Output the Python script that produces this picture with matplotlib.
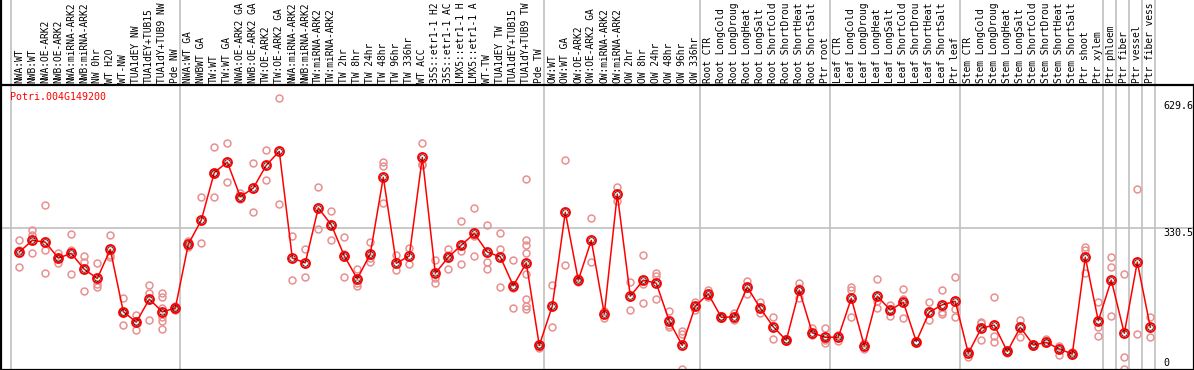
import matplotlib
matplotlib.use("Agg")
import matplotlib.pyplot as plt
from matplotlib.lines import Line2D
import matplotlib.transforms as mtransforms

plt.rcParams['font.family'] = ['DejaVu Sans Mono']

gene = "Potri.004G149200"

samples = [
    "NWA:WT", "NWB:WT", "NWA:OE-ARK2", "NWB:OE-ARK2", "NWA:miRNA-ARK2",
    "NWB:miRNA-ARK2", "NW 0hr", "WT H2O", "WT-NW", "TUA1dEY NW",
    "TUA1dEY+TUB15 NW", "TUA1dY+TUB9 NW", "Pde NW",
    "NWA:WT GA", "NWBWT GA", "TW:WT", "TW:WT GA", "NWA:OE-ARK2 GA",
    "NWB:OE-ARK2 GA", "TW:OE-ARK2", "TW:OE-ARK2 GA", "NWA:miRNA-ARK2 GA",
    "NWB:miRNA-ARK2 GA", "TW:miRNA-ARK2", "TW:miRNA-ARK2 GA", "TW 2hr",
    "TW 8hr", "TW 24hr", "TW 48hr", "TW 96hr", "TW 336hr", "WT ACC",
    "35S::etr1-1 H2O", "35S::etr1-1 ACC", "LMX5::etr1-1 H2O",
    "LMX5::etr1-1 ACC", "WT-TW", "TUA1dEY TW", "TUA1dEY+TUB15 TW",
    "TUA1dY+TUB9 TW", "Pde TW",
    "OW:WT", "OW:WT GA", "OW:OE-ARK2", "OW:OE-ARK2 GA", "OW:miRNA-ARK2",
    "OW:miRNA-ARK2 GA", "OW 2hr", "OW 8hr", "OW 24hr", "OW 48hr", "OW 96hr",
    "OW 336hr",
    "Root CTR", "Root LongCold", "Root LongDrought", "Root LongHeat",
    "Root LongSalt", "Root ShortCold", "Root ShortDrought", "Root ShortHeat",
    "Root ShortSalt", "Ptr root",
    "Leaf CTR", "Leaf LongCold", "Leaf LongDrought", "Leaf LongHeat",
    "Leaf LongSalt", "Leaf ShortCold", "Leaf ShortDrought", "Leaf ShortHeat",
    "Leaf ShortSalt", "Ptr leaf",
    "Stem CTR", "Stem LongCold", "Stem LongDrought", "Stem LongHeat",
    "Stem LongSalt", "Stem ShortCold", "Stem ShortDrought", "Stem ShortHeat",
    "Stem ShortSalt", "Ptr shoot", "Ptr xylem",
    "Ptr phloem", "Ptr fiber", "Ptr vessel", "Ptr fiber vessel",
]
MAX_CHARS = 14  # the header strip only has room for 14 characters

# index of first sample of each group (last entry = end)
group_starts = [0, 13, 41, 53, 63, 73, 84, 85, 86, 87, 88]

means = [
    274, 301, 297, 260, 271, 234, 213, 280, 136, 112, 165, 136, 144,
    292, 348, 458, 482, 402, 422, 475, 507, 260, 249, 376, 337, 265, 212,
    270, 447, 248, 265, 493, 225, 262, 290, 317, 274, 263, 196, 249, 58,
    149, 366, 209, 301, 131, 408, 172, 209, 202, 114, 58, 149,
    177, 123, 124, 193, 144, 101, 70, 186, 87, 77,
    77, 167, 57, 172, 140, 158, 67, 135, 152, 160,
    40, 98, 105, 44, 100, 59, 65, 50, 38, 262, 115,
    209, 86, 251, 100,
]

replicates = [
    [303, 279, 239], [325, 313, 271], [382, 279, 226], [271, 260, 248],
    [316, 279, 223], [266, 252, 184], [249, 199, 194], [313, 267, 263],
    [167, 136, 105], [128, 114, 94], [198, 179, 117],
    [179, 171, 144, 124, 115, 96], [149, 144, 140],
    [300, 286], [401, 294], [516, 456, 401], [526, 435], [410, 396],
    [479, 366], [510, 441], [629.6, 385], [312, 209], [281, 216],
    [424, 327], [369, 302], [309, 270, 216], [234, 203, 196],
    [297, 260, 252], [483, 473, 387], [267, 232], [283, 246],
    [526, 478, 475], [255, 215, 202], [282, 268, 234], [346, 277, 246],
    [375, 312, 265], [337, 251, 234], [318, 280, 193], [255, 190, 144],
    [443, 303, 290, 271, 223, 165, 149, 142], [62, 52],
    [198, 100], [487, 243], [214, 204], [352, 250], [138, 122], [424, 391],
    [204, 139], [267, 199, 156], [226, 219, 165], [138, 105, 100],
    [91, 84, 3], [158, 140],
    [186, 171], [126, 121], [134, 118], [207, 176], [158, 134], [123, 74],
    [72, 68], [202, 192, 167], [98, 82], [98, 71, 64],
    [82, 69], [194, 186, 124], [63, 49], [212, 160, 144], [152, 127],
    [188, 166, 121], [69, 65], [158, 118], [186, 136, 130], [216, 143, 124],
    [46, 32], [113, 110, 70], [170, 80, 66], [46, 40], [118, 78], [61, 57],
    [72, 63], [57, 37], [43, 37], [286, 279, 225], [158, 100, 80],
    [263, 239, 125], [223, 31, 3], [419, 84], [123, 78],
]

y_ticks = [0, 330.5, 629.6]

W, H = 1194, 370
HEADER = 85  # pixel height of label strip
fig = plt.figure(figsize=(W / 100, H / 100), dpi=100)
ax = fig.add_axes([0, 0, 1, (H - HEADER) / H])

# 13 px per sample, first sample at x = 19.3 px
step = 13.0
x0 = 19.3
ax.set_xlim(-x0 / step, (W - x0) / step)
ax.set_ylim(1.2, 660.4)
ax.set_xticks([])
ax.set_yticks([])
for side in ["left", "bottom", "top", "right"]:
    ax.spines[side].set_linewidth(1.6)
    ax.spines[side].set_color("black")

xs = list(range(len(samples)))

# gridline and right-hand value labels
ax.axhline(y_ticks[1], color="#c0c0c0", lw=1.2, zorder=1)
xlab = (1163 - x0) / step
ax.text(xlab, y_ticks[2], f"{y_ticks[2]}", fontsize=7.2, va="top", ha="left",
        transform=mtransforms.offset_copy(ax.transData, fig=fig, y=-3, units="dots"))
ax.text(xlab, y_ticks[1], f"{y_ticks[1]}", fontsize=7.2, va="top", ha="left")
ax.text(xlab, y_ticks[0], f"{y_ticks[0]}", fontsize=7.2, va="bottom", ha="left",
        transform=mtransforms.offset_copy(ax.transData, fig=fig, y=3, units="dots"))

# group separators run through the label strip too
for g in group_starts:
    ax.axvline(g - 0.65, ymin=0, ymax=H / (H - HEADER), color="#c0c0c0",
               lw=1.2, clip_on=False, zorder=1)

# replicate points
for x, reps in zip(xs, replicates):
    ax.plot([x] * len(reps), reps, "o", ms=5, mfc="none", mec="#e89090",
            mew=1.1, zorder=2, clip_on=True)

# mean line
ax.plot(xs, means, "-", color="red", lw=1.1, zorder=3)
ax.plot(xs, means, "o", ms=6.4, mfc="none", mec="red", mew=1.4, zorder=4)
ax.plot(xs, means, "o", ms=4.0, mfc="none", mec="black", mew=0.5, zorder=5)

ax.text(10 / step - x0 / step, 1 - 12 / (H - HEADER), gene, color="red",
        fontsize=7.2, va="center", ha="left",
        transform=mtransforms.blended_transform_factory(ax.transData, ax.transAxes))

# rotated sample names in the header strip
lab_tr = mtransforms.blended_transform_factory(ax.transData, ax.transAxes)
for x, name in zip(xs, samples):
    ax.text(x, 1 + 2 / (H - HEADER), name[:MAX_CHARS].rstrip(), rotation=90,
            fontsize=6.9, ha="center", va="bottom", transform=lab_tr,
            clip_on=False)

# left border runs the full height
fig.add_artist(Line2D([0.001, 0.001], [0, 1], color="black", lw=1.6))

fig.savefig("out.png", dpi=100)
